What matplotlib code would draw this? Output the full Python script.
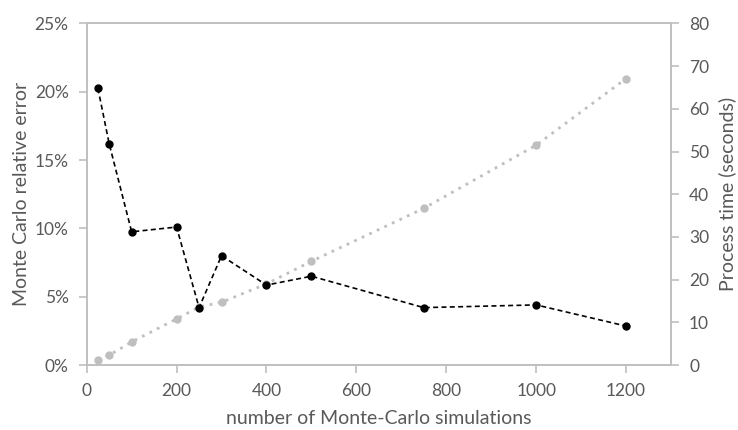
import matplotlib
matplotlib.use("Agg")
import matplotlib.pyplot as plt
from matplotlib.ticker import FuncFormatter

sims = [25, 50, 100, 200, 250, 300, 400, 500, 750, 1000, 1200]
rel_error = [20.25, 16.2, 9.75, 10.1, 4.2, 8.0, 5.85, 6.5, 4.2, 4.4, 2.85]
proc_time = [1.2, 2.3, 5.4, 10.8, 13.6, 14.7, 19.0, 24.3, 36.7, 51.5, 67.1]

plt.rcParams['font.family'] = ['Lato', 'DejaVu Sans']
txt = '#595959'
spine_c = '#BFBFBF'
fs = 12.5
fs_title = 14

L, R, T, B = 86.7, 671, 23.5, 365
fig = plt.figure(figsize=(7.38, 4.30), dpi=100)
ax = fig.add_axes([L/738, 1-B/430, (R-L)/738, (B-T)/430])
ax2 = ax.twinx()

ax2.plot(sims, proc_time, linestyle=(0, (1, 2)), color='#BFBFBF', lw=2,
         marker='o', markersize=5, markeredgecolor='#BFBFBF', markerfacecolor='#BFBFBF')
ax.plot(sims, rel_error, linestyle=(0, (3, 2)), color='black', lw=1.2,
        marker='o', markersize=5, zorder=5)
ax.set_zorder(ax2.get_zorder() + 1)
ax.patch.set_visible(False)

ax.set_xlim(0, 1300)
ax.set_ylim(0, 25)
ax2.set_ylim(0, 80)
ax.set_xticks(range(0, 1201, 200))
ax.set_yticks(range(0, 26, 5))
ax2.set_yticks(range(0, 81, 10))
ax.yaxis.set_major_formatter(FuncFormatter(lambda v, p: f"{int(v)}%"))

for a in (ax, ax2):
    for s in a.spines.values():
        s.set_color(spine_c)
        s.set_linewidth(1.2)
    a.tick_params(colors=spine_c, labelcolor=txt, labelsize=fs, length=6, width=1.2, pad=7)

ax.set_xlabel("number of Monte-Carlo simulations", fontsize=fs_title, color=txt,
              va='center', ha='center')
ax.xaxis.set_label_coords(0.5, (B-418)/(B-T))
ax.set_ylabel("Monte Carlo relative error", fontsize=fs_title, color=txt,
              rotation=90, va='center', ha='center')
ax.yaxis.set_label_coords((21-L)/(R-L), 0.5)
ax2.set_ylabel("Process time (seconds)", fontsize=fs_title, color=txt,
               rotation=90, va='center', ha='center')
ax2.yaxis.set_label_coords((727-L)/(R-L), 0.5)

fig.savefig("out.png", dpi=100)
